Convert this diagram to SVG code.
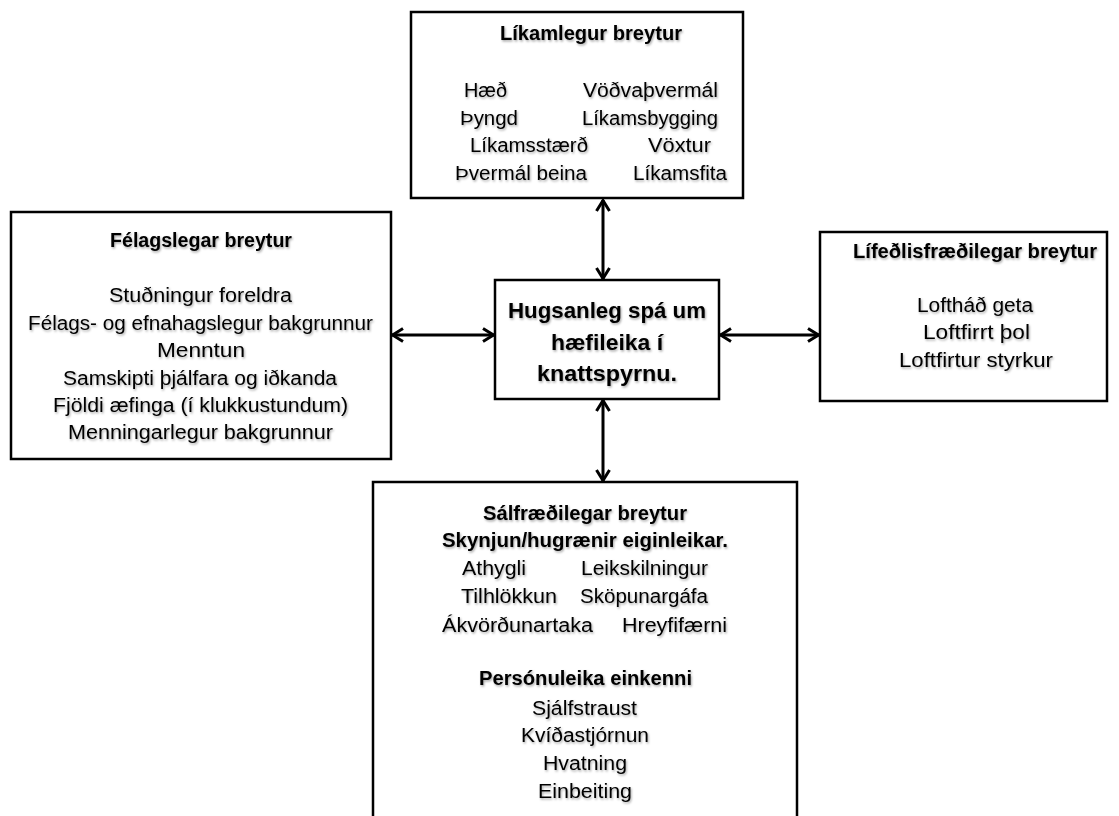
<svg xmlns="http://www.w3.org/2000/svg" width="1119" height="816" viewBox="0 0 1119 816">
<defs>
<filter id="sh" x="-5%" y="-20%" width="110%" height="160%">
<feDropShadow dx="1" dy="1.5" stdDeviation="1" flood-color="#000" flood-opacity="0.35"/>
</filter>
<marker id="ah" viewBox="0 0 14 16" refX="12.5" refY="8" markerWidth="14" markerHeight="16" markerUnits="userSpaceOnUse" orient="auto-start-reverse">
<path d="M1.5,1.5 L12,8 L1.5,14.5" fill="none" stroke="#000" stroke-width="3" stroke-linejoin="miter"/>
</marker>
</defs>
<style>
.box{fill:#fff;stroke:#000;stroke-width:2.5}
text{font-family:"Liberation Sans",Arial,sans-serif;fill:#000;filter:url(#sh)}
.t{font-size:19.5px;font-weight:bold}
.n{font-size:20px}
.c{font-size:22.5px;font-weight:bold}
.con{stroke:#000;stroke-width:3;fill:none;marker-start:url(#ah);marker-end:url(#ah)}
</style>
<g id="connectors">
<line class="con" x1="603" y1="200" x2="603" y2="279"/>
<line class="con" x1="603" y1="400" x2="603" y2="481"/>
<line class="con" x1="392" y1="335" x2="494" y2="335"/>
<line class="con" x1="720" y1="335" x2="819" y2="335"/>
</g>
<g id="node-likamlegur">
<rect class="box" x="411" y="12" width="332" height="186"/>
<text class="t" x="500" y="40" textLength="182" lengthAdjust="spacingAndGlyphs">Líkamlegur breytur</text>
<text class="n" x="464" y="97" textLength="43" lengthAdjust="spacingAndGlyphs">Hæð</text>
<text class="n" x="583" y="97" textLength="135" lengthAdjust="spacingAndGlyphs">Vöðvaþvermál</text>
<text class="n" x="460" y="125" textLength="58" lengthAdjust="spacingAndGlyphs">Þyngd</text>
<text class="n" x="582" y="125" textLength="136" lengthAdjust="spacingAndGlyphs">Líkamsbygging</text>
<text class="n" x="470" y="152" textLength="118" lengthAdjust="spacingAndGlyphs">Líkamsstærð</text>
<text class="n" x="648" y="152" textLength="63" lengthAdjust="spacingAndGlyphs">Vöxtur</text>
<text class="n" x="455" y="180" textLength="132" lengthAdjust="spacingAndGlyphs">Þvermál beina</text>
<text class="n" x="633" y="180" textLength="94" lengthAdjust="spacingAndGlyphs">Líkamsfita</text>
</g>
<g id="node-felagslegar">
<rect class="box" x="11" y="212" width="380" height="247"/>
<text class="t" x="110" y="247" textLength="182" lengthAdjust="spacingAndGlyphs">Félagslegar breytur</text>
<text class="n" x="109" y="302" textLength="183" lengthAdjust="spacingAndGlyphs">Stuðningur foreldra</text>
<text class="n" x="28" y="330" textLength="345" lengthAdjust="spacingAndGlyphs">Félags- og efnahagslegur bakgrunnur</text>
<text class="n" x="157" y="357" textLength="88" lengthAdjust="spacingAndGlyphs">Menntun</text>
<text class="n" x="63" y="385" textLength="274" lengthAdjust="spacingAndGlyphs">Samskipti þjálfara og iðkanda</text>
<text class="n" x="53" y="412" textLength="295" lengthAdjust="spacingAndGlyphs">Fjöldi æfinga (í klukkustundum)</text>
<text class="n" x="68" y="439" textLength="265" lengthAdjust="spacingAndGlyphs">Menningarlegur bakgrunnur</text>
</g>
<g id="node-center">
<rect class="box" x="495" y="280" width="224" height="119"/>
<text class="c" x="508" y="318" textLength="198" lengthAdjust="spacingAndGlyphs">Hugsanleg spá um</text>
<text class="c" x="551" y="350" textLength="112" lengthAdjust="spacingAndGlyphs">hæfileika í</text>
<text class="c" x="537" y="381" textLength="140" lengthAdjust="spacingAndGlyphs">knattspyrnu.</text>
</g>
<g id="node-lifedlis">
<rect class="box" x="820" y="232" width="287" height="169"/>
<text class="t" x="853" y="258" textLength="244" lengthAdjust="spacingAndGlyphs">Lífeðlisfræðilegar breytur</text>
<text class="n" x="917" y="312" textLength="116" lengthAdjust="spacingAndGlyphs">Loftháð geta</text>
<text class="n" x="923" y="339" textLength="107" lengthAdjust="spacingAndGlyphs">Loftfirrt þol</text>
<text class="n" x="899" y="367" textLength="154" lengthAdjust="spacingAndGlyphs">Loftfirtur styrkur</text>
</g>
<g id="node-salfraedi">
<rect class="box" x="373" y="482" width="424" height="345"/>
<text class="t" x="483" y="520" textLength="204" lengthAdjust="spacingAndGlyphs">Sálfræðilegar breytur</text>
<text class="t" x="442" y="547" textLength="286" lengthAdjust="spacingAndGlyphs">Skynjun/hugrænir eiginleikar.</text>
<text class="n" x="462" y="575" textLength="64" lengthAdjust="spacingAndGlyphs">Athygli</text>
<text class="n" x="581" y="575" textLength="127" lengthAdjust="spacingAndGlyphs">Leikskilningur</text>
<text class="n" x="461" y="603" textLength="96" lengthAdjust="spacingAndGlyphs">Tilhlökkun</text>
<text class="n" x="580" y="603" textLength="128" lengthAdjust="spacingAndGlyphs">Sköpunargáfa</text>
<text class="n" x="442" y="632" textLength="151" lengthAdjust="spacingAndGlyphs">Ákvörðunartaka</text>
<text class="n" x="622" y="632" textLength="105" lengthAdjust="spacingAndGlyphs">Hreyfifærni</text>
<text class="t" x="479" y="685" textLength="213" lengthAdjust="spacingAndGlyphs">Persónuleika einkenni</text>
<text class="n" x="532" y="715" textLength="105" lengthAdjust="spacingAndGlyphs">Sjálfstraust</text>
<text class="n" x="521" y="742" textLength="128" lengthAdjust="spacingAndGlyphs">Kvíðastjórnun</text>
<text class="n" x="543" y="770" textLength="84" lengthAdjust="spacingAndGlyphs">Hvatning</text>
<text class="n" x="538" y="798" textLength="94" lengthAdjust="spacingAndGlyphs">Einbeiting</text>
</g>
</svg>
